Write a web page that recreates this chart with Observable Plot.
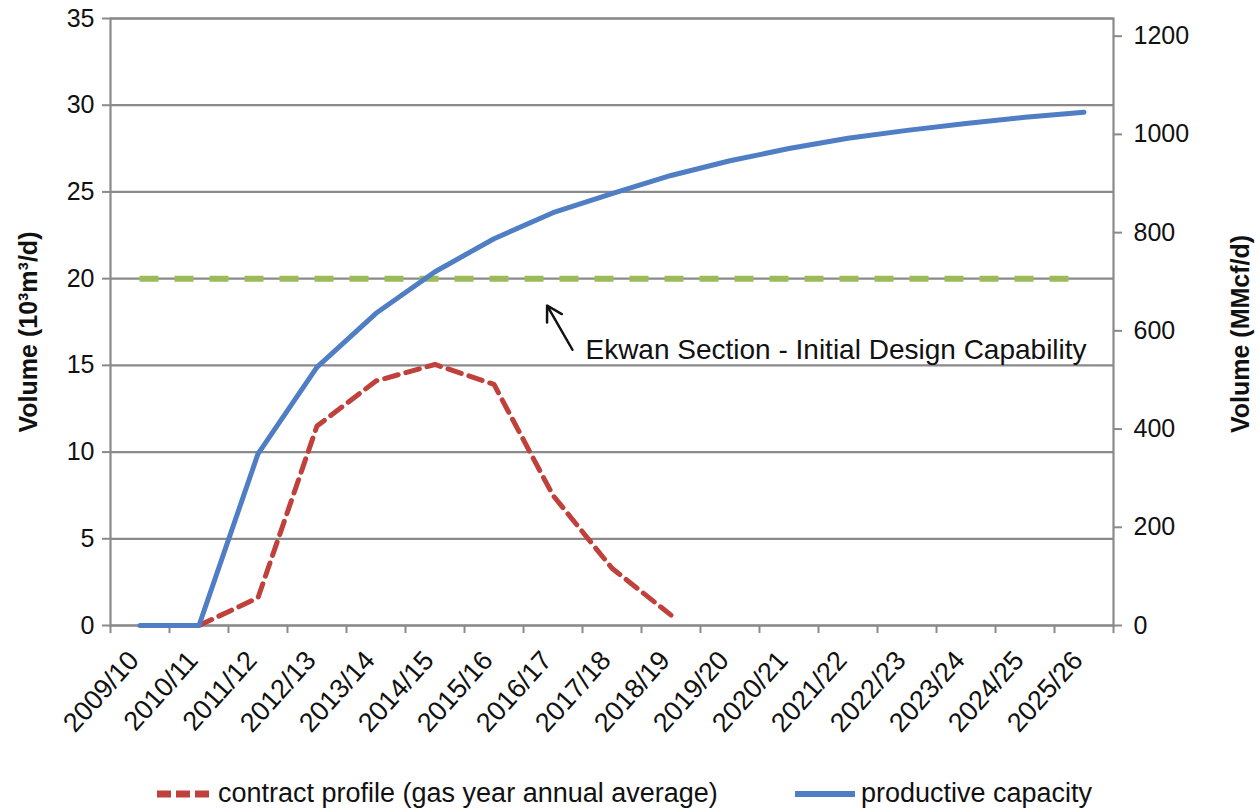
<!DOCTYPE html>
<html>
<head>
<meta charset="utf-8">
<script src="https://cdn.jsdelivr.net/npm/d3@7"></script>
<script src="https://cdn.jsdelivr.net/npm/@observablehq/plot@0.6"></script>
<style>
  html, body { margin: 0; padding: 0; background: #ffffff; }
  #chart svg { display: block; font-family: "Liberation Sans", Arial, sans-serif; }
  #legend { position: relative; width: 1260px; height: 37px; font-family: "Liberation Sans", Arial, sans-serif; font-size: 27px; color: #111; }
  #legend .item { position: absolute; top: 0; height: 37px; display: flex; align-items: center; white-space: nowrap; }
  #legend svg { display: block; margin-right: 6px; }
</style>
</head>
<body>
<div id="chart"></div>
<div id="legend"></div>
<script>
// ---- data ----
const categories = ["2009/10","2010/11","2011/12","2012/13","2013/14","2014/15","2015/16","2016/17","2017/18","2018/19","2019/20","2020/21","2021/22","2022/23","2023/24","2024/25","2025/26"];
const productiveCapacity = [0, 0, 9.9, 14.9, 18.0, 20.4, 22.3, 23.8, 24.9, 25.95, 26.8, 27.5, 28.1, 28.55, 28.95, 29.3, 29.6];
const contractCategories = ["2010/11","2011/12","2012/13","2013/14","2014/15","2015/16","2016/17","2017/18","2018/19"];
const contractProfile = [0, 1.6, 11.5, 14.1, 15.05, 13.9, 7.5, 3.3, 0.6];
const designCapability = 20;
const leftTicks = [0, 5, 10, 15, 20, 25, 30, 35];
const rightTicks = [0, 200, 400, 600, 800, 1000, 1200];
const mmcfPerUnit = 35.3147;
const annotationText = "Ekwan Section - Initial Design Capability";
const legendLabels = ["contract profile (gas year annual average)", "productive capacity"];

// ---- styles ----
const gray = "#8a8a8a";
const blue = "#4f7ec4";
const red = "#c0403c";
const green = "#9bbb59";

const idx = c => categories.indexOf(c);
const capTable = categories.map((c, i) => ({x: i, y: productiveCapacity[i]}));
const conTable = contractCategories.map((c, i) => ({x: idx(c), y: contractProfile[i]}));
const boundaries = d3.range(-0.5, categories.length, 1);

const chart = Plot.plot({
  width: 1260,
  height: 775,
  marginLeft: 110,
  marginRight: 147,
  marginTop: 18,
  marginBottom: 150,
  style: {fontFamily: "Liberation Sans, Arial, sans-serif", background: "#fff"},
  x: {domain: [-0.5, categories.length - 0.5], axis: null},
  y: {domain: [0, 35], axis: null},
  marks: [
    Plot.ruleY(leftTicks, {stroke: gray, strokeWidth: 2.2}),
    Plot.frame({stroke: gray, strokeWidth: 2.2}),
    Plot.axisY({ticks: leftTicks, tickSize: 8, tickPadding: 8, fontSize: 25, stroke: gray, strokeWidth: 2, fill: "#111", label: null}),
    Plot.axisY({anchor: "right", ticks: rightTicks.map(v => v / mmcfPerUnit), tickFormat: d => String(Math.round(d * mmcfPerUnit)), tickSize: 8, tickPadding: 12, fontSize: 25, stroke: gray, strokeWidth: 2, fill: "#111", label: null}),
    Plot.axisX({ticks: boundaries, tickFormat: () => "", tickSize: 8, stroke: gray, strokeWidth: 2, label: null}),
    Plot.axisX({ticks: d3.range(categories.length), tickFormat: i => categories[i], tickRotate: -48, tickSize: 0, tickPadding: 30, dx: -6, fontSize: 27, fill: "#111", label: null}),
    Plot.text(["Volume (10³m³/d)"], {frameAnchor: "left", textAnchor: "middle", dx: -82, dy: 10, rotate: -90, fontSize: 25, fontWeight: "bold", fill: "#111"}),
    Plot.text(["Volume (MMcf/d)"], {frameAnchor: "right", textAnchor: "middle", dx: 127, dy: 12, rotate: -90, fontSize: 25, fontWeight: "bold", fill: "#111"}),
    Plot.ruleY([designCapability], {x1: 0, x2: categories.length - 1, stroke: green, strokeWidth: 6, strokeDasharray: "19,16"}),
    Plot.line(conTable, {x: "x", y: "y", stroke: red, strokeWidth: 5, strokeDasharray: "14,8"}),
    Plot.line(capTable, {x: "x", y: "y", stroke: blue, strokeWidth: 5, strokeLinecap: "round", strokeLinejoin: "round"}),
    Plot.arrow([{x1: 7.33, y1: 15.9, x2: 6.9, y2: 18.45}], {x1: "x1", y1: "y1", x2: "x2", y2: "y2", stroke: "#111", strokeWidth: 2.5, headLength: 14, bend: 0}),
    Plot.text([annotationText], {x: 7.55, y: 15.86, textAnchor: "start", fontSize: 28, fill: "#111"})
  ]
});
document.getElementById("chart").appendChild(chart);

// ---- legend ----
const legend = document.getElementById("legend");
const items = [
  {label: legendLabels[0], left: 155, svg: `<svg width="57" height="10"><line x1="2" y1="5" x2="55" y2="5" stroke="${red}" stroke-width="7" stroke-dasharray="14,5"/></svg>`},
  {label: legendLabels[1], left: 795, svg: `<svg width="60" height="10"><line x1="1" y1="5" x2="59" y2="5" stroke="${blue}" stroke-width="6" stroke-linecap="round"/></svg>`}
];
for (const it of items) {
  const d = document.createElement("div");
  d.className = "item";
  d.style.left = it.left + "px";
  d.innerHTML = it.svg + `<span>${it.label}</span>`;
  legend.appendChild(d);
}
</script>
</body>
</html>
